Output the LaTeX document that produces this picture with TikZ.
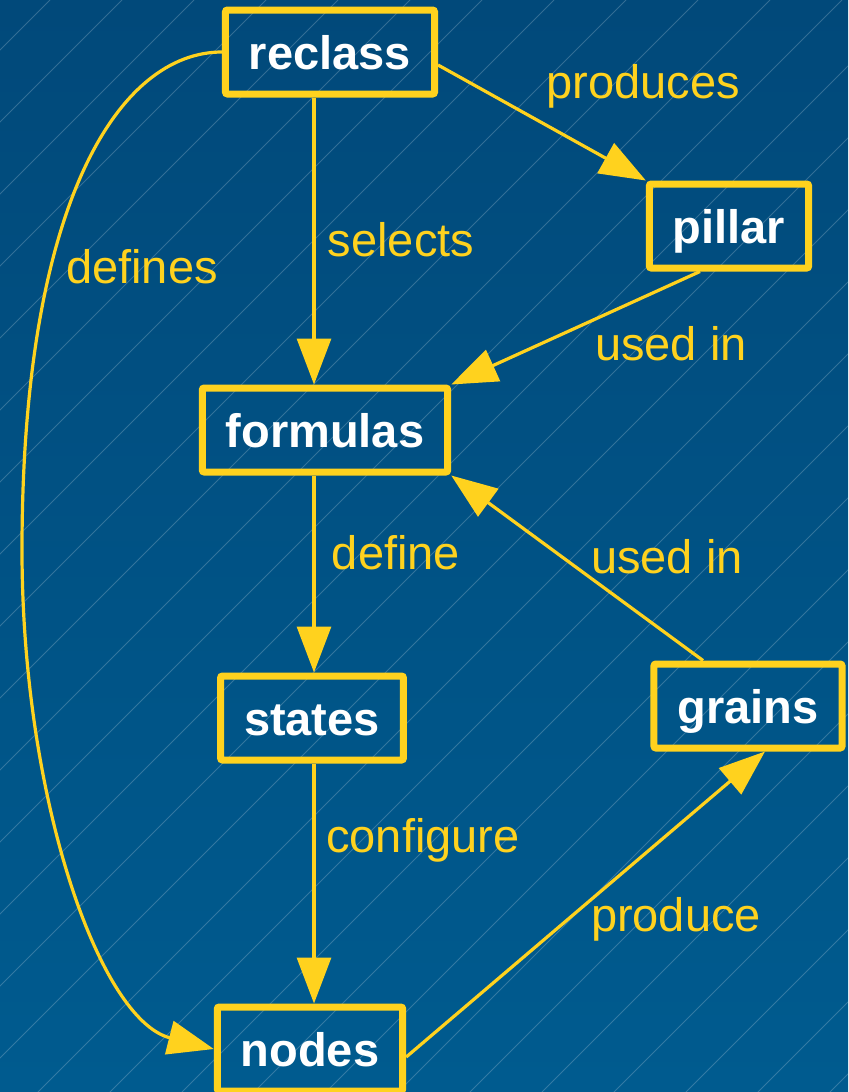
\documentclass[tikz,border=0pt]{standalone}
\usepackage{fontspec}
\setmainfont{Liberation Sans}
\usepackage{tikz}
\usetikzlibrary{arrows.meta}
\definecolor{bgtop}{RGB}{1,73,122}
\definecolor{bgbottom}{RGB}{0,91,143}
\definecolor{gold}{RGB}{255,210,30}

\begin{document}
\begin{tikzpicture}[x=0.5pt,y=-0.5pt,
  box/.style={draw=gold,line width=3.5pt,rounded corners=1pt,text=white,
    font=\fontsize{23.5}{28}\selectfont\bfseries,inner xsep=11.75pt,inner ysep=4pt,
    minimum height=42pt,text height=18pt,text depth=1pt},
  lbl/.style={text=gold,font=\fontsize{23.5}{28}\selectfont,inner sep=0pt},
  arr/.style={draw=gold,line width=1.6pt,-{Triangle[length=23pt,width=17pt]}},
  bgline/.style={white,opacity=0.2,line width=0.4pt}]
\shade[top color=bgtop,bottom color=bgbottom] (0,0) rectangle (848,1092);
\useasboundingbox (0,0) rectangle (848,1092);
\begin{scope}
\clip (0,0) rectangle (848,1092);
\foreach \c in {50,122,...,1960}
  \draw[bgline] (\c,0) -- ({\c-1092},1092);
\end{scope}

\node[box] (reclass) at (330,52) {reclass};
\node[box] (pillar) at (729,226) {pillar};
\node[box] (formulas) at (325,430) {formulas};
\node[box] (states) at (312,718) {states};
\node[box] (grains) at (748,706) {grains};
\node[box] (nodes) at (310,1049) {nodes};

\node[lbl] (selects) at (401,240) {selects};
\node[lbl] (produces) at (643,86) {produces};
\node[lbl] (usedin1) at (671,344) {used in};
\node[lbl] (define) at (396,553) {define};
\node[lbl] (usedin2) at (667,557) {used in};
\node[lbl] (configure) at (423,840) {configure};
\node[lbl] (produce) at (676,919) {produce};
\node[lbl] (defines) at (142,267) {defines};

\draw[arr] ([xshift=1pt]reclass.south -| states) -- ([xshift=1pt]formulas.north -| states);
\draw[arr] ([yshift=-6.5pt]reclass.east) -- (pillar.north west);
\draw[arr] ([xshift=-14.5pt]pillar.south) -- (formulas.north east);
\draw[arr] ([xshift=1pt]formulas.south -| states) -- ([xshift=1pt]states.north);
\draw[arr] ([xshift=-22.5pt]grains.north) -- (formulas.south east);
\draw[arr] ([xshift=1pt]states.south) -- ([xshift=1pt]nodes.north -| states);
\draw[arr] ([yshift=-4pt]nodes.east) -- ([xshift=8.5pt]grains.south);
\draw[arr] (reclass.west) .. controls (120,52) and (22,200) .. (22,550)
  .. controls (22,800) and (100,1020) .. (nodes.west);
\end{tikzpicture}
\end{document}
